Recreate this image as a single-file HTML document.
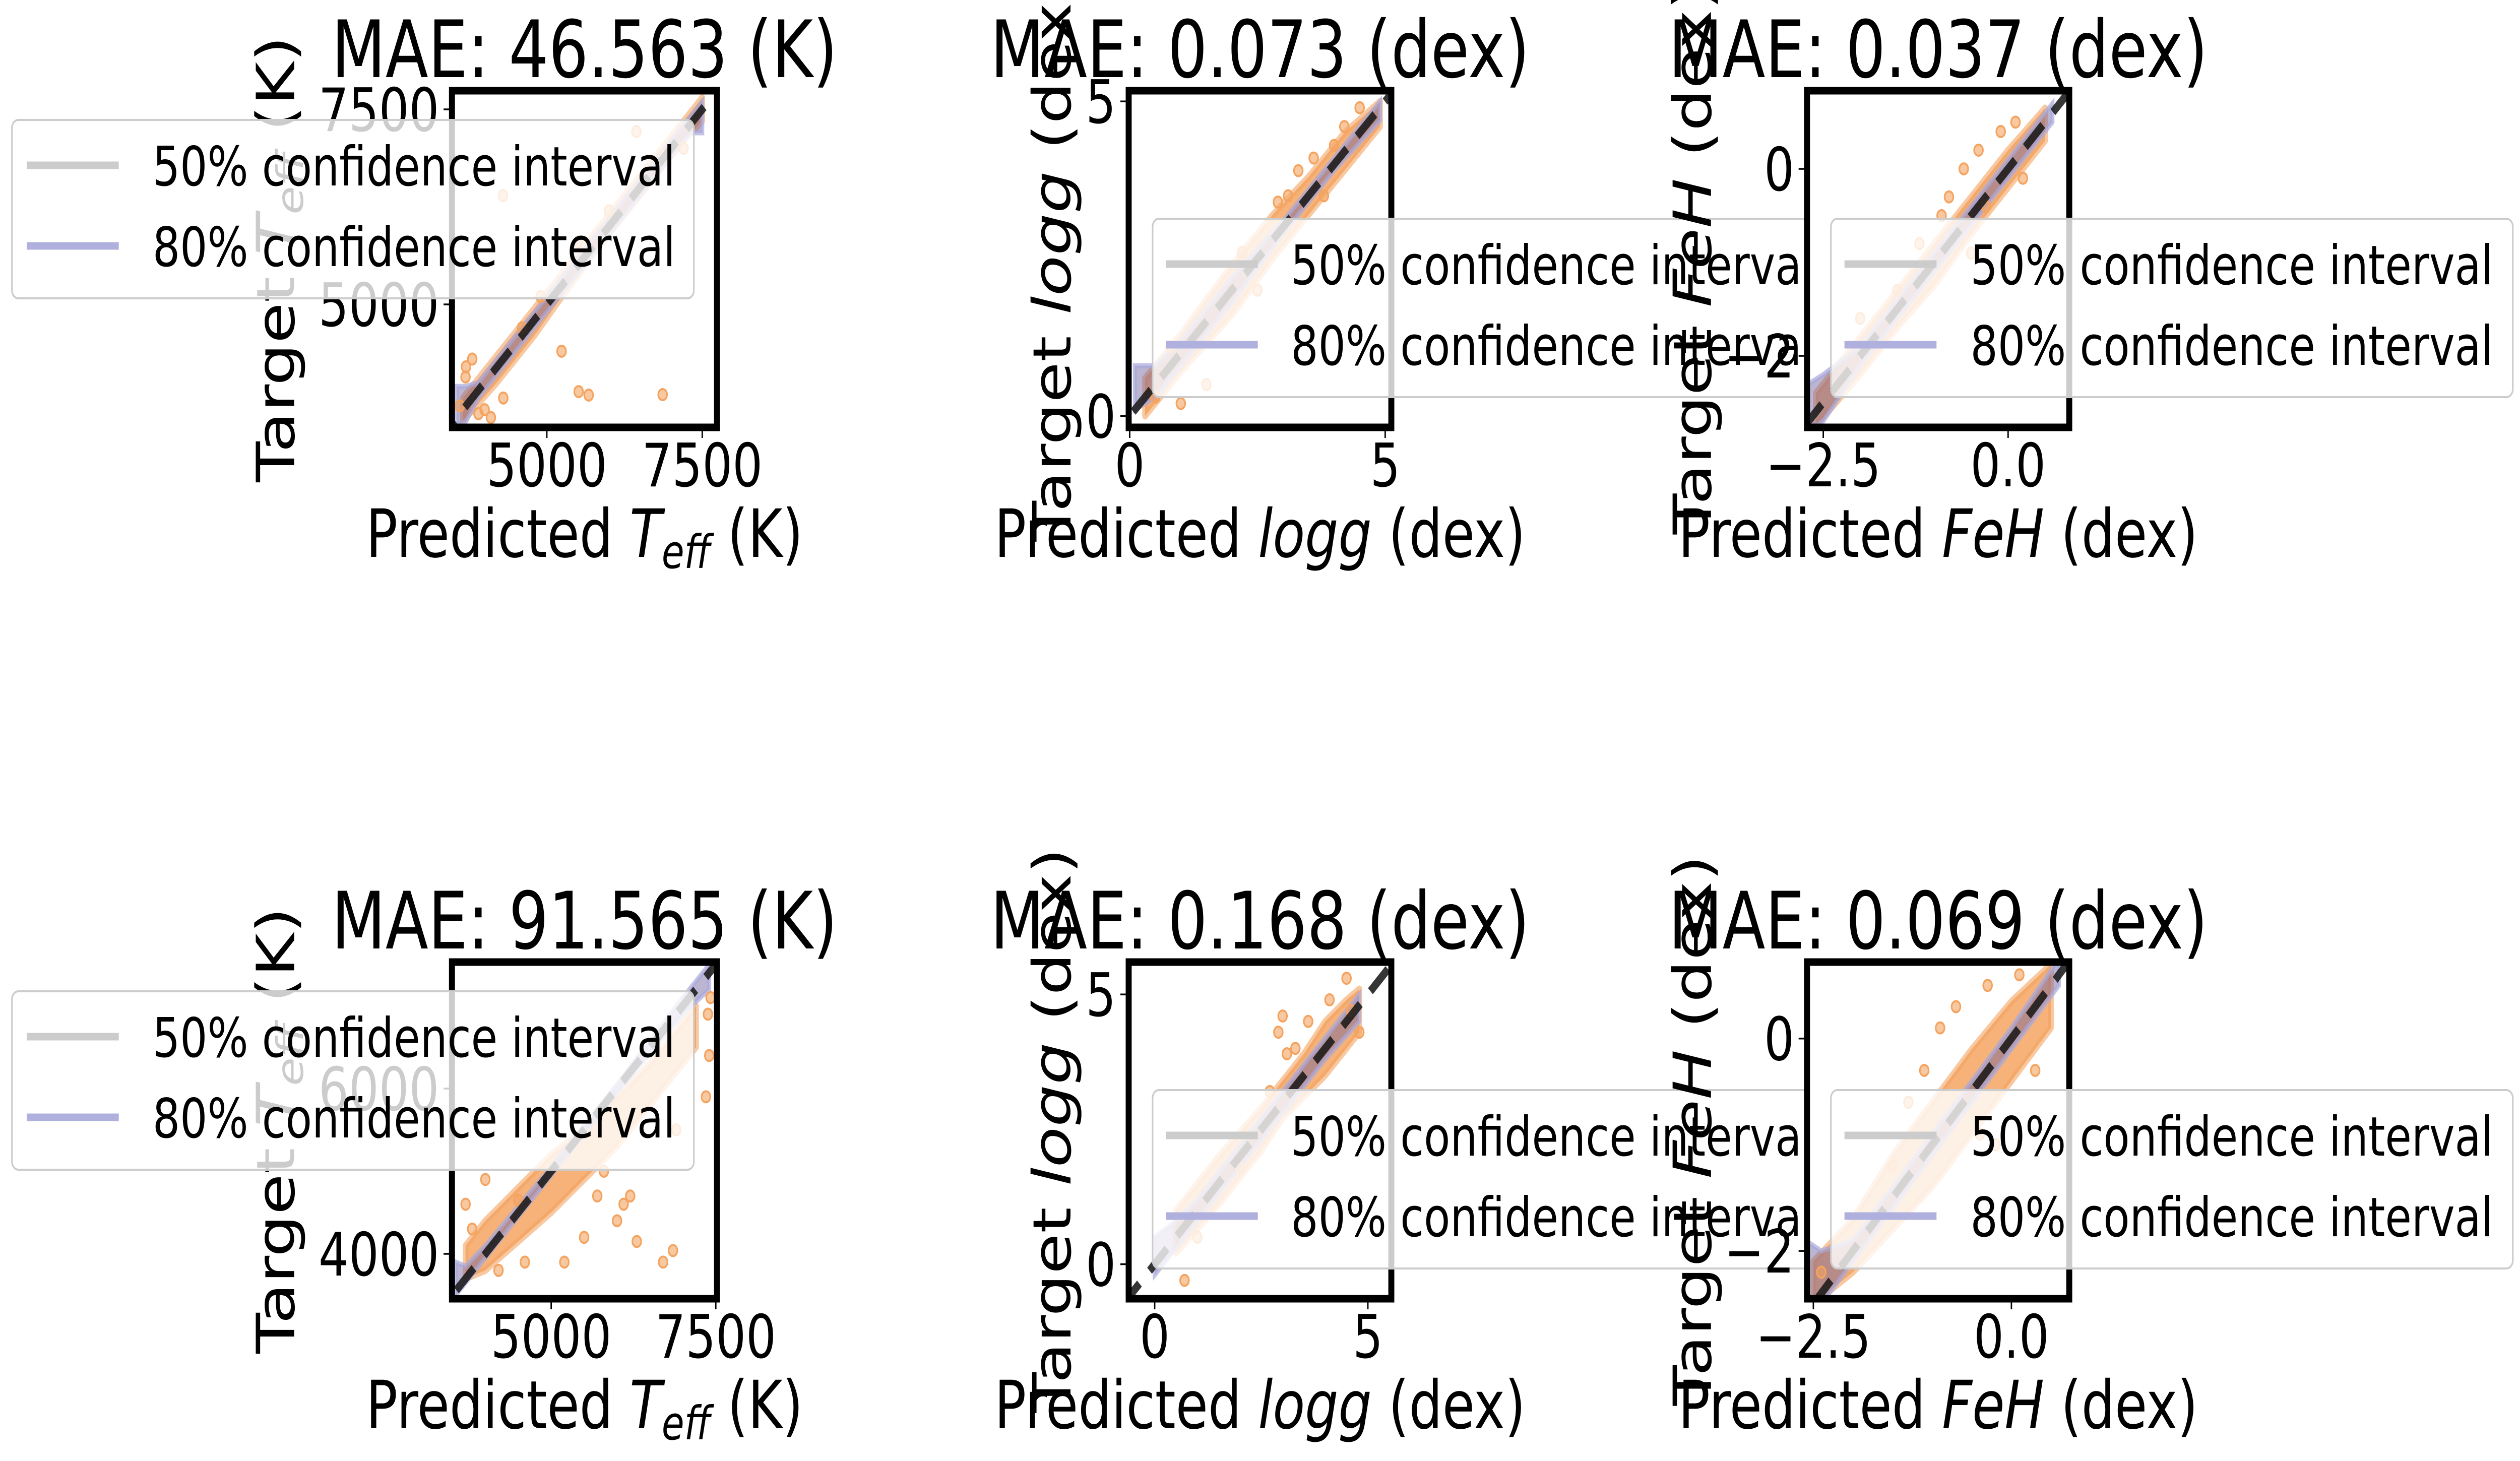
<!DOCTYPE html>
<html><head><meta charset="utf-8">
<style>
html,body{margin:0;padding:0;background:#fff;width:100%;height:100%;overflow:hidden;}
svg{display:block;position:fixed;left:0;top:0;width:100vw;height:100vh;}
text{font-family:"DejaVu Sans","Liberation Sans",sans-serif;fill:#000;}
</style></head>
<body>
<svg id="fig" xmlns="http://www.w3.org/2000/svg" viewBox="0 0 6323 2899" preserveAspectRatio="none"></svg>
<script>
// ---------- DATA ----------
// Panel A: Teff (top)
const aXDom=[3474,7737], aYDom=[3424,7739], aXTicks=[5000,7500], aYTicks=[5000,7500];
const aCoreX=[3650,4200,4800,5200,5800,6500,7200,7500];
const aCoreLo=[3500,4000,4600,5050,5700,6400,7100,7350];
const aCoreHi=[3800,4350,4950,5350,5950,6650,7350,7650];
const aCiX=[3550,3700,3900,4500,5500,6500,7300,7500];
const aCiLo=[3450,3500,3800,4400,5400,6400,7200,7200];
const aCiHi=[3950,3950,4000,4600,5600,6600,7400,7600];
const aPtsX=[5512,5673,6863,5237,3692,4294,6442,3900,4000,4300,3800,4900,4600,3600,3700,4100,6000,6900,7200,5500];
const aPtsY=[3882,3838,3844,4400,4070,6395,7216,3600,3650,3800,4300,5100,4700,3700,4200,3550,6200,6900,7000,5800];
// Panel B: logg (top)
const bXDom=[-0.02,5.12], bYDom=[-0.18,5.17], bXTicks=[0,5], bYTicks=[0,5];
const bCoreX=[0.3,1,2,2.8,3.5,4.2,4.9];
const bCoreLo=[0,0.7,1.6,2.5,3.2,3.9,4.6];
const bCoreHi=[0.6,1.3,2.4,3.2,3.8,4.5,5.0];
const bCiX=[0.1,0.5,1,2,3,4,4.9];
const bCiLo=[0.1,0.3,0.8,1.8,2.9,3.9,4.7];
const bCiHi=[0.8,0.8,1.2,2.2,3.1,4.1,5.0];
const bPtsX=[3.1,3.3,2.9,4.2,3.6,1.0,1.5,0.5,2.5,3.8,4.0,2.2,0.8,4.5];
const bPtsY=[3.5,3.9,3.4,4.6,4.1,0.2,0.5,0.3,2.0,3.5,4.3,2.6,1.1,4.9];
// Panel C: FeH (top)
const cXDom=[-2.72,0.827], cYDom=[-2.765,0.836], cXTicks=[-2.5,0], cYTicks=[-2,0];
const cCoreX=[-2.6,-2,-1.5,-1,-0.5,0,0.5];
const cCoreLo=[-2.75,-2.2,-1.7,-1.25,-0.7,-0.2,0.3];
const cCoreHi=[-2.4,-1.8,-1.3,-0.8,-0.3,0.2,0.65];
const cCiX=[-2.7,-2.5,-2,-1,0,0.6];
const cCiLo=[-2.8,-2.7,-2.1,-1.1,-0.1,0.5];
const cCiHi=[-2.3,-2.2,-1.9,-0.9,0.1,0.7];
const cPtsX=[-0.8,-0.9,-0.6,-0.3,-0.1,0.2,-1.2,-1.5,-2.0,-0.5,0.1,-0.4];
const cPtsY=[-0.3,-0.5,0.0,-0.4,0.4,-0.1,-0.8,-1.3,-1.6,-0.9,0.5,0.2];
// Panel D: Teff (bottom)
const dXDom=[3493,7518], dYDom=[3457,7530], dXTicks=[5000,7500], dYTicks=[4000,6000];
const dCoreX=[3700,4000,4500,5000,5500,6000,6500,7200];
const dCoreLo=[3700,3800,4150,4500,4900,5300,5800,6500];
const dCoreHi=[4100,4400,4800,5200,5500,5900,6300,7000];
const dCiX=[3550,3700,4000,5000,6000,7000,7400];
const dCiLo=[3500,3650,3950,4950,5950,6900,7200];
const dCiHi=[3900,3850,4100,5050,6050,7100,7500];
const dPtsX=[6000,6700,6300,5700,6100,5200,4000,3700,3800,4600,5500,7350,7400,7380,7420,6200,5800,6900,4500,4200,6850];
const dPtsY=[4400,3900,4150,4700,4600,3900,4900,4600,4300,3900,4200,5900,6400,6900,7100,4700,5000,5500,4650,3800,4040];
// Panel E: logg (bottom)
const eXDom=[-0.61,5.55], eYDom=[-0.64,5.6], eXTicks=[0,5], eYTicks=[0,5];
const eCoreX=[0.5,1.5,2.5,3,3.5,4,4.5,4.8];
const eCoreLo=[0.2,1.1,2.1,2.7,3.1,3.5,4.0,4.3];
const eCoreHi=[1.0,2.0,2.9,3.4,3.9,4.5,4.9,5.1];
const eCiX=[0,0.5,1,2,3,4,4.8];
const eCiLo=[-0.2,0.3,0.8,1.8,2.8,3.8,4.5];
const eCiHi=[0.5,0.8,1.2,2.2,3.2,4.2,5.0];
const ePtsX=[4.5,2.9,3.1,3.0,4.8,3.3,0.7,1.0,2.0,4.1,3.6,2.7,4.6];
const ePtsY=[5.3,4.3,3.9,4.6,4.3,4.0,-0.3,0.5,1.8,4.9,4.5,3.2,4.7];
// Panel F: FeH (bottom)
const fXDom=[-2.58,0.73], fYDom=[-2.45,0.72], fXTicks=[-2.5,0], fYTicks=[-2,0];
const fCoreX=[-2.5,-2,-1.5,-1,-0.5,0,0.5];
const fCoreLo=[-2.5,-2.2,-1.8,-1.4,-0.9,-0.4,0.1];
const fCoreHi=[-2.1,-1.7,-1.1,-0.6,-0.1,0.35,0.7];
const fCiX=[-2.6,-2.4,-2,-1,0,0.6];
const fCiLo=[-2.5,-2.5,-2.1,-1.1,-0.1,0.5];
const fCiHi=[-1.9,-2.0,-1.9,-0.9,0.1,0.75];
const fPtsX=[-1.1,-1.3,-0.9,-0.7,-0.3,0.1,-0.2,-1.5,-0.4,-2.4,0.3];
const fPtsY=[-0.3,-0.6,0.1,0.3,0.5,0.6,-1.0,-1.2,-0.9,-2.2,-0.3];

const titles=["MAE: 46.563 (K)","MAE: 0.073 (dex)","MAE: 0.037 (dex)","MAE: 91.565 (K)","MAE: 0.168 (dex)","MAE: 0.069 (dex)"];
const intFmt=v=>(v<0?"\u2212":"")+Math.abs(v);
const decFmt=v=>(v<0?"\u2212":"")+Math.abs(v).toFixed(1);
const xFmt=[intFmt,intFmt,decFmt,intFmt,intFmt,decFmt];
const yFmt=[intFmt,intFmt,intFmt,intFmt,intFmt,intFmt];

// ---------- DRAW ----------
const NS="http://www.w3.org/2000/svg";
const svg=document.getElementById('fig');
function mk(tag,attrs,parent){const e=document.createElementNS(NS,tag);for(const k in attrs)e.setAttribute(k,attrs[k]);(parent||svg).appendChild(e);return e;}

const layouts=[
 {box:[1134,180,665,668],ylab:738,leg:[30,238],legLine:67,legText:383,kind:'teff',xt:aXTicks,yt:aYTicks,xd:aXDom,yd:aYDom,cx:aCoreX,clo:aCoreLo,chi:aCoreHi,ix:aCiX,ilo:aCiLo,ihi:aCiHi,px:aPtsX,py:aPtsY},
 {box:[2832,180,659,668],ylab:2686,leg:[2892,434],legLine:2925,legText:3239,kind:'logg',xt:bXTicks,yt:bYTicks,xd:bXDom,yd:bYDom,cx:bCoreX,clo:bCoreLo,chi:bCoreHi,ix:bCiX,ilo:bCiLo,ihi:bCiHi,px:bPtsX,py:bPtsY},
 {box:[4534,180,658,668],ylab:4293,leg:[4594,434],legLine:4628,legText:4944,kind:'feh',xt:cXTicks,yt:cYTicks,xd:cXDom,yd:cYDom,cx:cCoreX,clo:cCoreLo,chi:cCoreHi,ix:cCiX,ilo:cCiLo,ihi:cCiHi,px:cPtsX,py:cPtsY},
 {box:[1134,1909,665,668],ylab:738,leg:[30,1967],legLine:67,legText:383,kind:'teff',xt:dXTicks,yt:dYTicks,xd:dXDom,yd:dYDom,cx:dCoreX,clo:dCoreLo,chi:dCoreHi,ix:dCiX,ilo:dCiLo,ihi:dCiHi,px:dPtsX,py:dPtsY},
 {box:[2832,1909,659,668],ylab:2686,leg:[2892,2163],legLine:2925,legText:3239,kind:'logg',xt:eXTicks,yt:eYTicks,xd:eXDom,yd:eYDom,cx:eCoreX,clo:eCoreLo,chi:eCoreHi,ix:eCiX,ilo:eCiLo,ihi:eCiHi,px:ePtsX,py:ePtsY},
 {box:[4534,1909,658,668],ylab:4293,leg:[4594,2163],legLine:4628,legText:4944,kind:'feh',xt:fXTicks,yt:fYTicks,xd:fXDom,yd:fYDom,cx:fCoreX,clo:fCoreLo,chi:fCoreHi,ix:fCiX,ilo:fCiLo,ihi:fCiHi,px:fPtsX,py:fPtsY}
];

function addLabel(t,parts){parts.forEach(p=>{const s=mk('tspan',p.a||{},t);s.textContent=p.s;});}

layouts.forEach((L,i)=>{
 const [bx,by,bw,bh]=L.box;
 const X=v=>bx+(v-L.xd[0])/(L.xd[1]-L.xd[0])*bw;
 const Y=v=>by+bh-(v-L.yd[0])/(L.yd[1]-L.yd[0])*bh;
 const g=mk('g',{});
 
 
 const cp=mk('clipPath',{id:'clip'+i},g);
 mk('rect',{x:bx,y:by,width:bw,height:bh},cp);
 const bg=mk('rect',{x:bx,y:by,width:bw,height:bh,fill:'#fff'},g);
 
 
 const plot=mk('g',{'clip-path':'url(#clip'+i+')'},g);
 let d='M'+L.cx.map((v,k)=>X(v)+','+Y(L.chi[k])).join(' L');
 d+=' L'+L.cx.slice().reverse().map((v,k)=>X(v)+','+Y(L.clo[L.cx.length-1-k])).join(' L')+'Z';
 const core=mk('path',{d:d,fill:'#f4a460','fill-opacity':0.85,stroke:'#f4a460','stroke-width':14,'stroke-linejoin':'round','stroke-opacity':0.6},plot);
 
 
 let d2='M'+L.ix.map((v,k)=>X(v)+','+Y(L.ihi[k])).join(' L');
 d2+=' L'+L.ix.slice().reverse().map((v,k)=>X(v)+','+Y(L.ilo[L.ix.length-1-k])).join(' L')+'Z';
 const ci=mk('path',{d:d2,fill:'#6a5a9a','fill-opacity':0.45,stroke:'#a8a8dc','stroke-width':10,'stroke-opacity':0.7},plot);
 
 
 L.px.forEach((v,k)=>{
  const c=mk('circle',{cx:X(v),cy:Y(L.py[k]),r:11,fill:'#f4a460','fill-opacity':0.6,stroke:'#f4a460','stroke-width':4},plot);
  
  
 });
 const lo=Math.min(L.xd[0],L.yd[0])-1e4, hi=Math.max(L.xd[1],L.yd[1])+1e4;
 const diag=mk('line',{x1:X(lo),y1:Y(lo),x2:X(hi),y2:Y(hi),stroke:'#1a1a1a','stroke-opacity':0.88,'stroke-width':17,'stroke-dasharray':'62 36'},plot);
 
 
 const fr=mk('rect',{x:bx,y:by,width:bw,height:bh,fill:'none',stroke:'#000','stroke-width':15},g);
 
 
 L.xt.forEach(v=>{
  const tl=mk('line',{x1:X(v),y1:by+bh+7,x2:X(v),y2:by+bh+21,stroke:'#000','stroke-width':3.5},g);
  
  
  const t=mk('text',{x:X(v),y:by+bh+117,'font-size':119,'text-anchor':'middle'},g);
  
  
  t.textContent=xFmt[i](v);
 });
 L.yt.forEach(v=>{
  const tl=mk('line',{x1:bx-7,y1:Y(v),x2:bx-21,y2:Y(v),stroke:'#000','stroke-width':3.5},g);
  
  
  const t=mk('text',{x:bx-32,y:Y(v)+43,'font-size':119,'text-anchor':'end'},g);
  
  
  t.textContent=yFmt[i](v);
 });
 const sym = L.kind==='teff'?[{s:'T',a:{'font-style':'italic'}},{s:'eff',a:{'font-style':'italic','font-size':92,'baseline-shift':'-22'}},{s:' (K)',a:{}}]
           : L.kind==='logg'?[{s:'logg',a:{'font-style':'italic'}},{s:' (dex)',a:{}}]
           : [{s:'FeH',a:{'font-style':'italic'}},{s:' (dex)',a:{}}];
 const xl=mk('text',{x:bx+bw/2,y:by+bh+257,'font-size':132,'text-anchor':'middle'},g);
 
 
 addLabel(xl,[{s:'Predicted '}].concat(sym));
 const cy=by+bh/2;
 const yl=mk('text',{x:L.ylab,y:cy,'font-size':132,'text-anchor':'middle',transform:'rotate(-90 '+L.ylab+' '+cy+')'},g);
 
 
 addLabel(yl,[{s:'Target '}].concat(sym));
 const tt=mk('text',{x:bx+bw/2,y:by-27,'font-size':157,'text-anchor':'middle'},g);
 
 
 tt.textContent=titles[i];
 const lg=mk('g',{},g);
 
 
 const [lx,ly]=L.leg;
 mk('rect',{x:lx,y:ly,width:1711,height:354,rx:16,fill:'#fff','fill-opacity':0.8,stroke:'#cccccc','stroke-width':4},lg);
 const lw=231;
 [['50% confidence interval','#cccccc',90,'legend-entry-50'],['80% confidence interval','#b0b0de',250,'legend-entry-80']].forEach(e=>{
  const ln=mk('line',{x1:L.legLine,y1:ly+e[2],x2:L.legLine+lw,y2:ly+e[2],stroke:e[1],'stroke-width':15},lg);
  
  
  const t=mk('text',{x:L.legText,y:ly+e[2]+40,'font-size':108},lg);
  
  
  t.textContent=e[0];
 });
});
</script>
</body></html>
